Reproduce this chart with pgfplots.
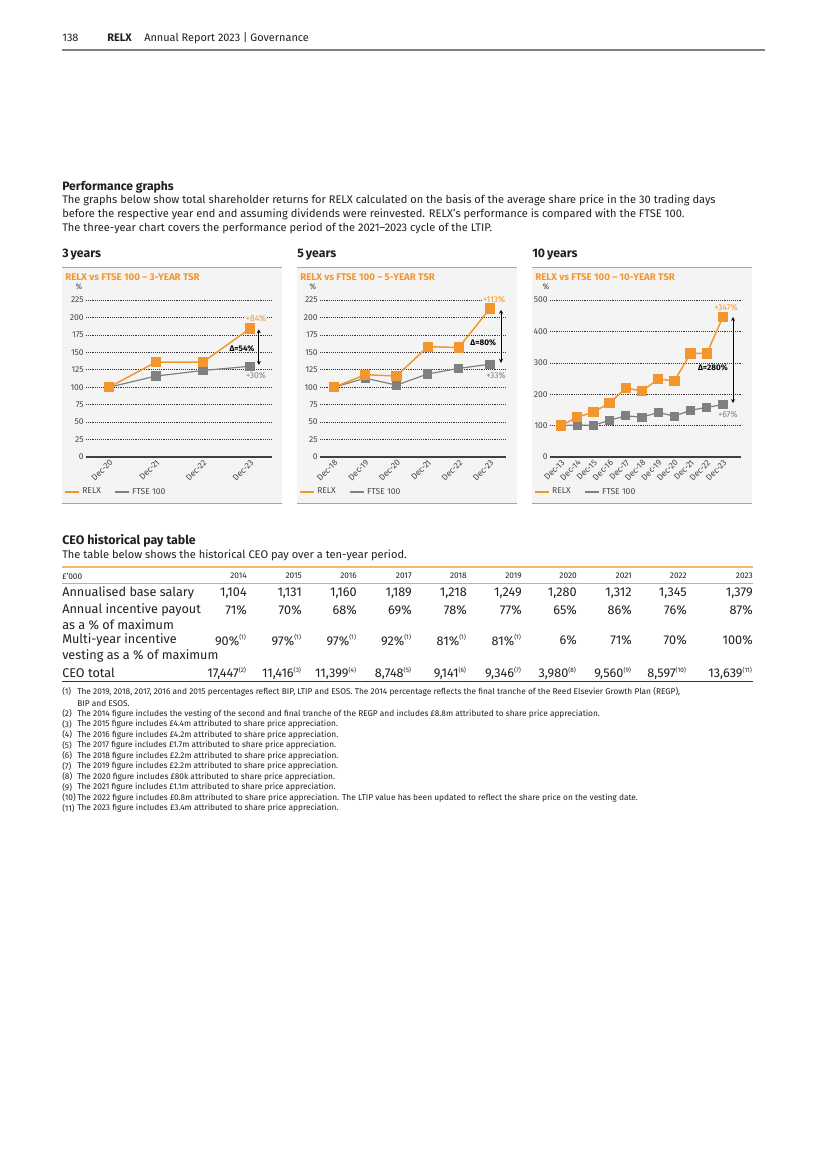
\documentclass[border=0pt]{standalone}
\usepackage{pgfplots}
\pgfplotsset{compat=1.18}
\usepackage{fontspec}
\setmainfont{Fira Sans}
\usetikzlibrary{arrows.meta}

\definecolor{relx}{RGB}{243,150,45}
\definecolor{ftse}{RGB}{128,128,128}
\definecolor{panel}{RGB}{244,244,244}
\definecolor{ink}{RGB}{35,31,32}
\definecolor{tick}{RGB}{70,70,70}

\newcommand\fs[2]{\fontsize{#1}{#2}\selectfont}

\pgfplotsset{
  tsr/.style={
    scale only axis, anchor=south west, clip=false,
    height=117.75pt, ymin=0,
    axis x line*=bottom, axis y line*=left,
    y axis line style={draw=none},
    x axis line style={draw=black!75, line width=1pt},
    major tick style={draw=none},
    ymajorgrids, grid style={densely dotted, black!80, line width=0.45pt},
    tick label style={font=\fs{6.4}{7}, text=tick},
    /pgf/number format/assume math mode=true,
    yticklabel style={inner sep=1.5pt},
    xticklabel style={rotate=45, anchor=north east, inner sep=1pt},
    legend style={draw=none, fill=none, anchor=west, legend columns=2,
      font=\fs{6.4}{7}, text=tick, inner sep=0pt,
      /tikz/every even column/.append style={column sep=8pt}},
    legend cell align=left,
    legend image code/.code={\draw[##1] (0pt,0pt) -- (10.5pt,0pt);},
  },
  relxplot/.style={relx, line width=1.1pt, mark=square*, mark size=3.3pt,
    mark options={solid, fill=relx, draw=relx}},
  ftseplot/.style={ftse, line width=0.9pt, mark=square*, mark size=3pt,
    mark options={solid, fill=ftse, draw=ftse}},
}
\tikzset{
  lblo/.style={font=\fs{6.4}{7}, text=relx, fill=panel, inner sep=1pt},
  lblg/.style={font=\fs{6.4}{7}, text=ftse, fill=panel, inner sep=1pt},
  lbld/.style={font=\bfseries\fs{6.1}{7}, text=black, inner sep=0.5pt},
  darr/.style={{Stealth[length=3pt,width=3pt]}-{Stealth[length=3pt,width=3pt]}, black, line width=0.6pt},
}

\begin{document}
\begin{tikzpicture}
\begin{scope}[x=0.75pt,y=-0.75pt]
\fill[white] (0,0) rectangle (825,1168);

% running header
\node[anchor=west,inner sep=0,font=\fs{8.2}{9},text=ink] at (62,38) {138};
\node[anchor=west,inner sep=0,font=\bfseries\fs{8.2}{9},text=ink] at (107,38) {RELX};
\node[anchor=west,inner sep=0,font=\fs{8.2}{9},text=ink] at (144,38) {Annual Report 2023 | Governance};
\draw[black!50, line width=0.8pt] (62,50) -- (765,50);

% performance graphs intro
\node[anchor=west,inner sep=0,font=\bfseries\fs{9.1}{10},text=ink] at (62,187) {Performance graphs};
\node[anchor=north west,inner sep=0,font=\fs{8.3}{10.5},text=ink,align=left] at (62,195)
 {The graphs below show total shareholder returns for RELX calculated on the basis of the average share price in the 30 trading days\\
  before the respective year end and assuming dividends were reinvested. RELX’s performance is compared with the FTSE 100.\\
  The three-year chart covers the performance period of the 2021–2023 cycle of the LTIP.};

% section heads and panels
\node[anchor=west,inner sep=0,font=\bfseries\fs{9.2}{10},text=ink] at (62,255) {3\,years};
\node[anchor=west,inner sep=0,font=\bfseries\fs{9.2}{10},text=ink] at (297,255) {5\,years};
\node[anchor=west,inner sep=0,font=\bfseries\fs{9.2}{10},text=ink] at (532,255) {10\,years};
\foreach \px in {62,297,532}{
  \fill[panel] (\px,267) rectangle (\px+220,503);
  \draw[relx, line width=0.7pt] (\px,267) -- (\px+220,267);
  \draw[relx, line width=0.7pt] (\px,503) -- (\px+220,503);
}
\node[anchor=west,inner sep=0,font=\bfseries\fs{7.3}{8},text=relx] at (65,277) {RELX vs FTSE 100 – 3-YEAR TSR};
\node[anchor=west,inner sep=0,font=\bfseries\fs{7.3}{8},text=relx] at (300,277) {RELX vs FTSE 100 – 5-YEAR TSR};
\node[anchor=west,inner sep=0,font=\bfseries\fs{7.3}{8},text=relx] at (535,277) {RELX vs FTSE 100 – 10-YEAR TSR};
\node[inner sep=0,font=\fs{6}{7},text=tick] at (79,287) {\%};
\node[inner sep=0,font=\fs{6}{7},text=tick] at (313,287) {\%};
\node[inner sep=0,font=\fs{6}{7},text=tick] at (546,287) {\%};
\end{scope}

% 3-year TSR
\begin{axis}[tsr, at={(64.5pt,-342.75pt)}, width=139.5pt,
  xmin=-0.49, xmax=3.47, ymax=225, ytick={0,25,...,225},
  xtick={0,1,2,3}, xticklabels={Dec-20,Dec-21,Dec-22,Dec-23},
  legend style={at={(axis description cs:-0.118,-0.223)}}]
\addlegendimage{relx, line width=1pt}\addlegendentry{RELX}
\addlegendimage{ftse, line width=1pt}\addlegendentry{FTSE 100}
\addplot[ftseplot, forget plot] coordinates {(0,100) (1,116) (2,124) (3,130)};
\addplot[relxplot, forget plot] coordinates {(0,100) (1,136) (2,136) (3,184)};
\node[lblo] at (axis cs:3.13,199) {+84\%};
\node[lblg] at (axis cs:3.13,117) {+30\%};
\draw[darr] (axis cs:3.19,183) -- (axis cs:3.19,132);
\node[lbld] at (axis cs:2.83,155) {Δ=54\%};
\end{axis}

% 5-year TSR
\begin{axis}[tsr, at={(240pt,-342.75pt)}, width=139.5pt,
  xmin=-0.45, xmax=5.51, ymax=225, ytick={0,25,...,225},
  xtick={0,...,5}, xticklabels={Dec-18,Dec-19,Dec-20,Dec-21,Dec-22,Dec-23},
  legend style={at={(axis description cs:-0.113,-0.223)}}]
\addlegendimage{relx, line width=1pt}\addlegendentry{RELX}
\addlegendimage{ftse, line width=1pt}\addlegendentry{FTSE 100}
\addplot[ftseplot, forget plot] coordinates {(0,100) (1,113) (2,103) (3,119) (4,127) (5,133)};
\addplot[relxplot, forget plot] coordinates {(0,100) (1,118) (2,116) (3,158) (4,157) (5,213)};
\node[lblo] at (axis cs:5.13,225) {+113\%};
\node[lblg] at (axis cs:5.19,117) {+33\%};
\draw[darr] (axis cs:5.35,211) -- (axis cs:5.35,135);
\node[lbld] at (axis cs:4.78,164) {Δ=80\%};
\end{axis}

% 10-year TSR
\begin{axis}[tsr, at={(412.5pt,-342.75pt)}, width=143.25pt,
  xmin=-0.68, xmax=11.11, ymax=500, ytick={0,100,...,500},
  xtick={0,...,10}, xticklabels={Dec-13,Dec-14,Dec-15,Dec-16,Dec-17,Dec-18,Dec-19,Dec-20,Dec-21,Dec-22,Dec-23},
  legend style={at={(axis description cs:-0.084,-0.223)}}]
\addlegendimage{relx, line width=1pt}\addlegendentry{RELX}
\addlegendimage{ftse, line width=1pt}\addlegendentry{FTSE 100}
\addplot[ftseplot, forget plot] coordinates {(0,100) (1,102) (2,101) (3,117) (4,131) (5,127) (6,142) (7,130) (8,149) (9,158) (10,167)};
\addplot[relxplot, forget plot] coordinates {(0,100) (1,127) (2,143) (3,172) (4,220) (5,210) (6,248) (7,243) (8,330) (9,330) (10,447)};
\node[lblo] at (axis cs:10.19,475) {+347\%};
\node[lblg] at (axis cs:10.3,134) {+67\%};
\draw[darr] (axis cs:10.62,446) -- (axis cs:10.62,172);
\node[lbld] at (axis cs:9.38,283) {Δ=280\%};
\end{axis}

\begin{scope}[x=0.75pt,y=-0.75pt]
% CEO pay table
\node[anchor=west,inner sep=0,font=\bfseries\fs{9.3}{10},text=ink] at (62,541) {CEO historical pay table};
\node[anchor=west,inner sep=0,font=\fs{8.3}{10},text=ink] at (62,555) {The table below shows the historical CEO pay over a ten-year period.};
\draw[relx!70, line width=1.4pt] (62,567) -- (753,567);
\draw[black!30, line width=0.5pt] (62,583) -- (753,583);
\draw[black!80, line width=0.7pt] (62,681) -- (753,681);

\tikzset{hd/.style={inner sep=0,font=\fs{6.2}{7},text=ink},
         cl/.style={inner sep=0,font=\fs{9.5}{11},text=ink}}
\node[hd,anchor=west] at (62,576) {£’000};
\node[cl,anchor=west] at (62,593) {Annualised base salary};
\node[cl,anchor=west] at (62,610) {Annual incentive payout};
\node[cl,anchor=west] at (62,625) {as a \% of maximum};
\node[cl,anchor=west] at (62,640) {Multi-year incentive};
\node[cl,anchor=west] at (62,656) {vesting as a \% of maximum};
\node[cl,anchor=west] at (62,673) {CEO total};

\newcommand\sr[1]{\textsuperscript{\fs{4.8}{5}(#1)}}
\newcommand\col[6]{%
  \node[hd,anchor=east] at (#1,576) {#2};
  \node[cl,anchor=east] at (#1,593) {#3};
  \node[cl,anchor=east] at (#1,610) {#4};
  \node[cl,anchor=east] at (#1,640) {#5};
  \node[cl,anchor=east] at (#1,673) {#6};}
\col{247}{2014}{1,104}{71\%}{90\%\sr{1}}{17,447\sr{2}}
\col{302}{2015}{1,131}{70\%}{97\%\sr{1}}{11,416\sr{3}}
\col{357}{2016}{1,160}{68\%}{97\%\sr{1}}{11,399\sr{4}}
\col{412}{2017}{1,189}{69\%}{92\%\sr{1}}{8,748\sr{5}}
\col{467}{2018}{1,218}{78\%}{81\%\sr{1}}{9,141\sr{6}}
\col{522}{2019}{1,249}{77\%}{81\%\sr{1}}{9,346\sr{7}}
\col{577}{2020}{1,280}{65\%}{6\%}{3,980\sr{8}}
\col{632}{2021}{1,312}{86\%}{71\%}{9,560\sr{9}}
\col{687}{2022}{1,345}{76\%}{70\%}{8,597\sr{10}}
\col{753}{2023}{1,379}{87\%}{100\%}{13,639\sr{11}}

% footnotes
\tikzset{fn/.style={inner sep=0,font=\fs{6.25}{7},text=ink,anchor=west}}
\node[fn] at (62,692) {(1)};
\node[fn] at (77,692) {The 2019, 2018, 2017, 2016 and 2015 percentages reflect BIP, LTIP and ESOS. The 2014 percentage reflects the final tranche of the Reed Elsevier Growth Plan (REGP),};
\node[fn] at (77,703) {BIP and ESOS.};
\node[fn] at (62,714) {(2)};
\node[fn] at (77,714) {The 2014 figure includes the vesting of the second and final tranche of the REGP and includes £8.8m attributed to share price appreciation.};
\node[fn] at (62,724.5) {(3)};
\node[fn] at (77,724.5) {The 2015 figure includes £4.4m attributed to share price appreciation.};
\node[fn] at (62,735) {(4)};
\node[fn] at (77,735) {The 2016 figure includes £4.2m attributed to share price appreciation.};
\node[fn] at (62,745.5) {(5)};
\node[fn] at (77,745.5) {The 2017 figure includes £1.7m attributed to share price appreciation.};
\node[fn] at (62,756) {(6)};
\node[fn] at (77,756) {The 2018 figure includes £2.2m attributed to share price appreciation.};
\node[fn] at (62,766.5) {(7)};
\node[fn] at (77,766.5) {The 2019 figure includes £2.2m attributed to share price appreciation.};
\node[fn] at (62,777) {(8)};
\node[fn] at (77,777) {The 2020 figure includes £80k attributed to share price appreciation.};
\node[fn] at (62,787.5) {(9)};
\node[fn] at (77,787.5) {The 2021 figure includes £1.1m attributed to share price appreciation.};
\node[fn] at (62,798) {(10)};
\node[fn] at (77,798) {The 2022 figure includes £0.8m attributed to share price appreciation. The LTIP value has been updated to reflect the share price on the vesting date.};
\node[fn] at (62,808.5) {(11)};
\node[fn] at (77,808.5) {The 2023 figure includes £3.4m attributed to share price appreciation.};
\end{scope}
\end{tikzpicture}
\end{document}
